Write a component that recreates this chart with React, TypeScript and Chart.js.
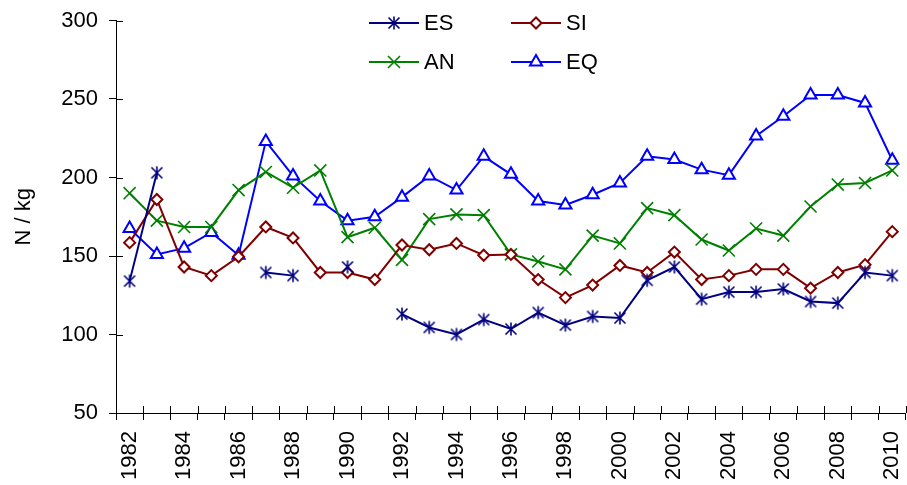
import React, { useEffect, useRef } from "react";
import { Chart, registerables } from "chart.js";
import { drawPoint } from "chart.js/helpers";

Chart.register(...registerables);

const years = [
  "1982", "1983", "1984", "1985", "1986", "1987", "1988", "1989", "1990", "1991",
  "1992", "1993", "1994", "1995", "1996", "1997", "1998", "1999", "2000", "2001",
  "2002", "2003", "2004", "2005", "2006", "2007", "2008", "2009", "2010",
];

const esValues = [
  134, 203, null, null, null, 139.5, 137.5, null, 143, null,
  113, 104.5, 100, 109.5, 103.5, 114, 106, 111.5, 110.5, 134.5,
  143, 122.5, 127, 127, 129, 121, 120, 139.5, 137.5,
];
const siValues = [
  158.5, 186, 143, 137.5, 149.5, 168.5, 161.5, 139.5, 139.5, 135,
  157, 154, 158, 150.5, 151, 135, 123.5, 131.5, 144, 139.5,
  152.5, 135, 137.5, 141.5, 141.5, 129.5, 139.5, 144.5, 165.5,
];
const anValues = [
  190, 172.5, 168.5, 168.5, 192, 203.5, 193.5, 204.5, 162, 168,
  147.5, 173.5, 176.5, 176, 151, 146.5, 141.5, 163, 158, 180.5,
  176, 160.5, 153.5, 167.5, 163, 181.5, 195.5, 196.5, 204.5,
];
const eqValues = [
  167.5, 151, 155, 165, 150.5, 223, 201, 185, 172.5, 175,
  187.5, 201, 192, 213.5, 202, 185, 182.5, 189, 196.5, 213.5,
  211.5, 205, 201.5, 226.5, 239, 252.5, 252.5, 247.5, 211,
];

const seriesNames = ["ES", "SI", "AN", "EQ"];
const yTicks = [50, 100, 150, 200, 250, 300];
const yTitle = "N / kg";

const FONT = "'Liberation Sans', Arial, sans-serif";
const FS = 22;
const CANVAS_W = 916;

function makeAsterisk(color: string) {
  const c = document.createElement("canvas");
  c.width = 16;
  c.height = 16;
  const ctx = c.getContext("2d")!;
  ctx.strokeStyle = color;
  ctx.lineWidth = 1.6;
  ctx.beginPath();
  ctx.moveTo(2.5, 2.5);
  ctx.lineTo(13.5, 13.5);
  ctx.moveTo(13.5, 2.5);
  ctx.lineTo(2.5, 13.5);
  ctx.moveTo(8, 1.5);
  ctx.lineTo(8, 14.5);
  ctx.stroke();
  return c;
}

export default function App() {
  const ref = useRef<HTMLCanvasElement>(null);

  useEffect(() => {
    document.body.style.margin = "0";
    const canvas = ref.current!;
    const asterisk = makeAsterisk("#000080");

    const innerTicks = {
      id: "innerTicks",
      afterDraw(chart: any) {
        const ctx = chart.ctx;
        const x = chart.scales.x;
        const y = chart.scales.y;
        const area = chart.chartArea;
        ctx.save();
        ctx.strokeStyle = "#000";
        ctx.lineWidth = 1;
        ctx.beginPath();
        for (const t of yTicks) {
          const py = Math.round(y.getPixelForValue(t)) + 0.5;
          ctx.moveTo(area.left, py);
          ctx.lineTo(area.left + 7, py);
        }
        for (let i = 0; i <= years.length; i++) {
          const px = Math.round(x.getPixelForValue(i - 0.5)) + 0.5;
          ctx.moveTo(px, area.bottom);
          ctx.lineTo(px, area.bottom - 7);
        }
        ctx.stroke();
        ctx.restore();
      },
    };

    const legendPos = [
      [369, 23],
      [511, 23],
      [369, 62],
      [511, 62],
    ];
    const customLegend = {
      id: "customLegend",
      afterDraw(chart: any) {
        const ctx = chart.ctx;
        ctx.save();
        chart.data.datasets.forEach((ds: any, i: number) => {
          const [lx, ly] = legendPos[i];
          ctx.strokeStyle = ds.borderColor;
          ctx.lineWidth = 2;
          ctx.beginPath();
          ctx.moveTo(lx, ly);
          ctx.lineTo(lx + 50, ly);
          ctx.stroke();
          ctx.fillStyle = ds.pointBackgroundColor;
          ctx.strokeStyle = ds.borderColor;
          ctx.lineWidth = ds.pointBorderWidth;
          drawPoint(ctx, { pointStyle: ds.pointStyle, radius: ds.pointRadius, rotation: 0, borderWidth: ds.pointBorderWidth }, lx + 25, ly);
          ctx.fillStyle = "#000";
          ctx.font = `${FS}px ${FONT}`;
          ctx.textBaseline = "middle";
          ctx.textAlign = "left";
          ctx.fillText(ds.label, lx + 55, ly + 1);
        });
        ctx.restore();
      },
    };

    const chart = new Chart(canvas, {
      type: "line",
      data: {
        labels: years,
        datasets: [
          {
            label: seriesNames[0],
            data: esValues,
            borderColor: "#000080",
            backgroundColor: "#000080",
            pointBackgroundColor: "#000080",
            borderWidth: 2,
            pointStyle: asterisk as any,
            pointRadius: 7,
            pointBorderWidth: 1.6,
            spanGaps: false,
          },
          {
            label: seriesNames[1],
            data: siValues,
            borderColor: "#800000",
            backgroundColor: "#ffffff",
            pointBackgroundColor: "#ffffff",
            borderWidth: 2,
            pointStyle: "rectRot",
            pointRadius: 5.5,
            pointBorderWidth: 2,
          },
          {
            label: seriesNames[2],
            data: anValues,
            borderColor: "#008000",
            backgroundColor: "#008000",
            pointBackgroundColor: "#008000",
            borderWidth: 2,
            pointStyle: "crossRot",
            pointRadius: 8.5,
            pointBorderWidth: 1.6,
          },
          {
            label: seriesNames[3],
            data: eqValues,
            borderColor: "#0000ff",
            backgroundColor: "#ffffff",
            pointBackgroundColor: "#ffffff",
            borderWidth: 2,
            pointStyle: "triangle",
            pointRadius: 7,
            pointBorderWidth: 2,
          },
        ],
      },
      options: {
        responsive: false,
        animation: false,
        devicePixelRatio: 1,
        layout: { padding: { top: 0, right: 1, left: 0, bottom: 0 } },
        plugins: {
          legend: { display: false },
          tooltip: { enabled: false },
        },
        elements: { line: { tension: 0 } },
        scales: {
          x: {
            type: "category",
            offset: true,
            grid: {
              offset: true,
              drawOnChartArea: false,
              drawTicks: true,
              tickLength: 7,
              color: "#000",
            },
            border: { display: true, color: "#000", width: 1 },
            ticks: {
              autoSkip: false,
              maxRotation: 90,
              minRotation: 90,
              padding: 11,
              color: "#000",
              font: { family: FONT, size: FS },
              callback: (_v: any, i: number) => (i % 2 === 0 ? years[i] : ""),
            },
            afterFit: (s: any) => {
              s.height = 72;
              s.paddingLeft = 0;
              s.paddingRight = 0;
              s.paddingTop = 0;
              s.paddingBottom = 0;
            },
          },
          y: {
            min: 50,
            max: 300,
            afterBuildTicks: (s: any) => {
              s.ticks = yTicks.map((v) => ({ value: v }));
            },
            grid: {
              drawOnChartArea: false,
              drawTicks: true,
              tickLength: 7,
              color: "#000",
            },
            border: { display: true, color: "#000", width: 1 },
            ticks: {
              padding: 11,
              color: "#000",
              font: { family: FONT, size: FS },
            },
            title: {
              display: true,
              text: yTitle,
              color: "#000",
              font: { family: FONT, size: FS },
              padding: { top: 11, bottom: 0 },
            },
            afterFit: (s: any) => {
              s.width = 116;
              s.paddingTop = 20.5;
              s.paddingBottom = 0;
              s.paddingLeft = 0;
              s.paddingRight = 0;
            },
          },
        },
      },
      plugins: [innerTicks, customLegend],
    });

    return () => chart.destroy();
  }, []);

  return (
    <div style={{ width: 907, height: 485, position: "relative", overflow: "hidden" }}>
      <canvas ref={ref} width={CANVAS_W} height={485} style={{ width: CANVAS_W, height: 485, display: "block" }} />
    </div>
  );
}
